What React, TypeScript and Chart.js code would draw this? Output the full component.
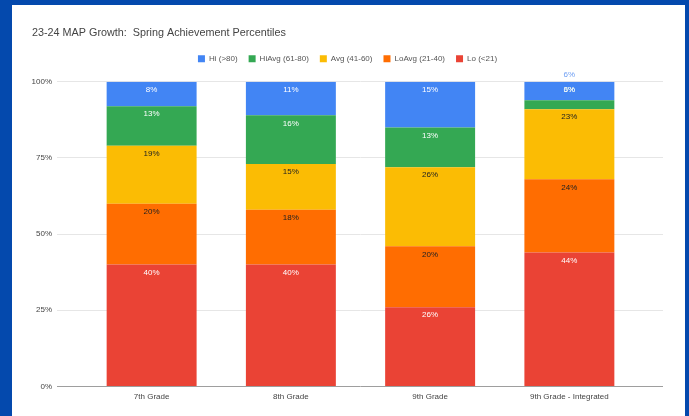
import React, { useEffect, useRef } from 'react';
import { Chart, registerables } from 'chart.js';

Chart.register(...registerables);

const categories = ['7th Grade', '8th Grade', '9th Grade', '9th Grade - Integrated'];
// bottom-to-top stacking order
const seriesNames = ['Lo (<21)', 'LoAvg (21-40)', 'Avg (41-60)', 'HiAvg (61-80)', 'Hi (>80)'];
const lo = [40, 40, 26, 44];
const loAvg = [20, 18, 20, 24];
const avg = [19, 15, 26, 23];
const hiAvg = [13, 16, 13, 3];
const hi = [8, 11, 15, 6];
const seriesValues = [lo, loAvg, avg, hiAvg, hi];
const seriesColors = ['#EA4335', '#FF6D01', '#FBBC04', '#34A853', '#4285F4'];
const labelColors = ['#ffffff', '#222222', '#222222', '#ffffff', '#ffffff'];
const yTicks = [0, 25, 50, 75, 100];
const titleText = '23-24 MAP Growth:  Spring Achievement Percentiles';

const FONT = '"Liberation Sans", Arial, sans-serif';

const gridColor = (c: any) => (c.tick && c.tick.value === 0 ? '#9e9e9e' : '#e6e6e6');

const segLabels = {
  id: 'segLabels',
  afterDatasetsDraw(chart: any) {
    const ctx = chart.ctx;
    const n = chart.data.datasets.length;
    ctx.save();
    ctx.font = `8px ${FONT}`;
    ctx.textAlign = 'center';
    ctx.textBaseline = 'middle';
    chart.data.datasets.forEach((ds: any, di: number) => {
      const meta = chart.getDatasetMeta(di);
      meta.data.forEach((bar: any, i: number) => {
        const v = ds.data[i];
        const text = v + '%';
        const topBar = chart.getDatasetMeta(n - 1).data[i];
        let y = bar.y + 8;
        let color = labelColors[di];
        if (Math.abs(bar.base - bar.y) < 12) {
          y = topBar.y + 8;
          color = '#cfe9d5';
        }
        ctx.fillStyle = color;
        ctx.fillText(text, bar.x, y);
        if (di === n - 1 && v < 7) {
          ctx.fillStyle = '#6d9ef3';
          ctx.fillText(text, bar.x, bar.y - 7);
        }
      });
    });
    ctx.restore();
  },
};

export default function App() {
  const ref = useRef<HTMLCanvasElement>(null);
  useEffect(() => {
    if (!ref.current) return;
    const chart = new Chart(ref.current, {
      type: 'bar',
      data: {
        labels: categories,
        datasets: seriesNames.map((name, i) => ({
          label: name,
          data: seriesValues[i],
          backgroundColor: seriesColors[i],
          borderWidth: 0,
          barPercentage: 0.646,
          categoryPercentage: 1,
        })),
      },
      options: {
        responsive: false,
        animation: false,
        devicePixelRatio: 1,
        layout: { padding: { left: 20, right: 22, top: 0, bottom: 8 } },
        plugins: {
          title: {
            display: true,
            text: titleText,
            align: 'start',
            color: '#444444',
            font: { family: FONT, size: 10.8, weight: 'normal' },
            padding: { top: 21.5, bottom: 4.4 },
          },
          subtitle: {
            display: true,
            text: '',
            weight: 100,
            font: { size: 1 },
            padding: { top: 0, bottom: 7.8 },
          },
          legend: {
            display: true,
            position: 'top',
            labels: {
              boxWidth: 7,
              boxHeight: 7,
              padding: 11,
              color: '#555555',
              font: { family: FONT, size: 8 },
              sort: (a: any, b: any) => b.datasetIndex - a.datasetIndex,
            },
          },
          tooltip: { enabled: false },
        },
        scales: {
          x: {
            stacked: true,
            grid: { display: false, drawTicks: false },
            border: { display: false },
            ticks: { color: '#444444', font: { family: FONT, size: 8 }, padding: 6, maxRotation: 0 },
          },
          y: {
            stacked: true,
            position: 'left',
            min: 0,
            max: 100,
            afterBuildTicks: (s: any) => { s.ticks = yTicks.map((v) => ({ value: v })); },
            afterFit: (s: any) => { s.width = 50; },
            grid: { color: gridColor, tickLength: 25, drawTicks: true },
            border: { display: false },
            ticks: {
              color: '#444444',
              font: { family: FONT, size: 8 },
              padding: 5,
              callback: (v: any) => v + '%',
            },
          },
          y2: {
            position: 'right',
            min: 0,
            max: 100,
            afterBuildTicks: (s: any) => { s.ticks = yTicks.map((v) => ({ value: v })); },
            afterFit: (s: any) => { s.width = 24; },
            grid: { color: gridColor, tickLength: 24, drawOnChartArea: false, drawTicks: true },
            border: { display: false },
            ticks: { display: false },
          },
        },
      } as any,
      plugins: [segLabels],
    });
    return () => chart.destroy();
  }, []);
  return (
    <div
      style={{
        position: 'fixed',
        left: 0,
        top: 0,
        width: 689,
        height: 416,
        background: '#0449ad',
        boxSizing: 'border-box',
        paddingLeft: 12,
        paddingTop: 5,
      }}
    >
      <div style={{ width: 673, height: 411, background: '#ffffff' }}>
        <canvas ref={ref} width={673} height={411} style={{ display: 'block' }} />
      </div>
    </div>
  );
}
